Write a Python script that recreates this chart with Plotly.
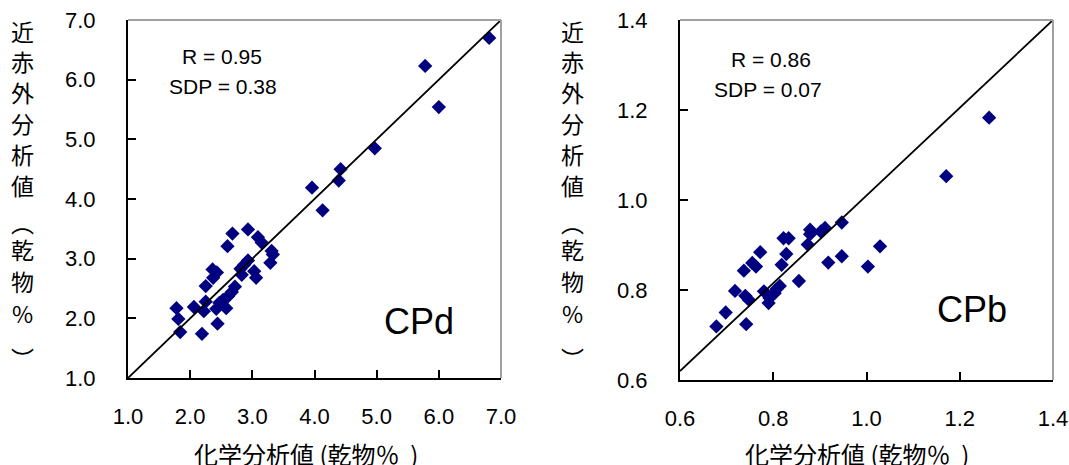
import plotly.graph_objects as go

W, H = 1069, 465

# ---- data: CPd ----
cpd_chem = [6.81, 5.78, 6.00, 4.97, 4.42, 4.39, 3.96, 4.13, 2.93, 2.68, 2.60, 3.09, 3.15,
            3.31, 3.33, 3.29, 2.93, 2.87, 2.81, 2.83, 3.03, 3.06, 2.36, 2.43, 2.37, 2.25,
            2.72, 2.67, 2.61, 2.53, 2.47, 2.25, 2.58, 2.42, 2.22, 2.06, 1.78, 1.81, 1.84,
            2.19, 2.44]
cpd_nir = [6.70, 6.23, 5.54, 4.85, 4.50, 4.31, 4.19, 3.81, 3.49, 3.42, 3.21, 3.36, 3.27,
           3.13, 3.07, 2.93, 2.97, 2.90, 2.83, 2.73, 2.79, 2.68, 2.82, 2.77, 2.68, 2.54,
           2.53, 2.44, 2.37, 2.31, 2.26, 2.28, 2.17, 2.16, 2.12, 2.19, 2.17, 1.99, 1.77,
           1.74, 1.91]
cpd_line_x = [1.0, 7.0]
cpd_line_y = [1.0, 7.0]

# ---- data: CPb ----
cpb_chem = [1.263, 1.171, 1.029, 1.003, 0.947, 0.947, 0.918, 0.911, 0.902, 0.879, 0.879,
            0.874, 0.855, 0.822, 0.833, 0.828, 0.818, 0.772, 0.763, 0.755, 0.737, 0.718,
            0.740, 0.748, 0.698, 0.678, 0.742, 0.780, 0.792, 0.790, 0.803, 0.814, 0.807]
cpb_nir = [1.183, 1.053, 0.897, 0.852, 0.950, 0.875, 0.861, 0.938, 0.930, 0.934, 0.924,
           0.901, 0.820, 0.915, 0.915, 0.880, 0.856, 0.884, 0.852, 0.860, 0.843, 0.798,
           0.787, 0.778, 0.750, 0.719, 0.724, 0.797, 0.782, 0.771, 0.793, 0.809, 0.802]
cpb_line_x = [0.6, 1.4]
cpb_line_y = [0.62, 1.4]

cpd_ticks = [1.0, 2.0, 3.0, 4.0, 5.0, 6.0, 7.0]
cpb_ticks = [0.6, 0.8, 1.0, 1.2, 1.4]

ytitle_chars = ["近", "赤", "外", "分", "析", "値", "︵", "乾", "物", "%", "︶"]
ytitle_ypix = [31, 61, 92, 123, 154, 185, 222, 249, 281, 313, 358]
xtitle = "化学分析値 (乾物％\u00a0\u00a0)"

MARK = "#000080"
CJK = "Noto Sans CJK JP"
LAT = "Liberation Sans, Arial, sans-serif"

def px(x):
    return x / W

def py(y):
    return 1 - y / H

fig = go.Figure()
fig.add_trace(go.Scatter(x=cpd_chem, y=cpd_nir, mode="markers", xaxis="x", yaxis="y",
                         marker=dict(symbol="diamond", size=11, color=MARK, line=dict(width=0))))
fig.add_trace(go.Scatter(x=cpd_line_x, y=cpd_line_y, mode="lines", xaxis="x", yaxis="y",
                         line=dict(color="black", width=1.8)))
fig.add_trace(go.Scatter(x=cpb_chem, y=cpb_nir, mode="markers", xaxis="x2", yaxis="y2",
                         marker=dict(symbol="diamond", size=11, color=MARK, line=dict(width=0))))
fig.add_trace(go.Scatter(x=cpb_line_x, y=cpb_line_y, mode="lines", xaxis="x2", yaxis="y2",
                         line=dict(color="black", width=1.8)))

axis_common = dict(showline=True, linecolor="black", linewidth=2, ticks="inside",
                   ticklen=8, tickwidth=2, tickcolor="black", showgrid=False,
                   zeroline=False, tickfont=dict(family=LAT, size=22, color="black"),
                   fixedrange=True, automargin=False, ticklabeloverflow="allow")

L = (128, 501, 20, 378)
R = (680, 1053, 20, 380)

fig.update_layout(
    width=W, height=H, margin=dict(l=0, r=0, t=0, b=0, autoexpand=False),
    paper_bgcolor="white", plot_bgcolor="white", showlegend=False,
    xaxis=dict(domain=[px(L[0]), px(L[1])], range=[1, 7], tickvals=cpd_ticks,
               ticktext=[f"{v:.1f}" for v in cpd_ticks], anchor="y",
               ticklabelstandoff=18, **axis_common),
    yaxis=dict(domain=[py(L[3]), py(L[2])], range=[1, 7], tickvals=cpd_ticks,
               ticktext=[f"{v:.1f}" for v in cpd_ticks], anchor="x",
               ticklabelstandoff=26, **axis_common),
    xaxis2=dict(domain=[px(R[0]), px(R[1])], range=[0.6, 1.4], tickvals=cpb_ticks,
                ticktext=[f"{v:.1f}" for v in cpb_ticks], anchor="y2",
                ticklabelstandoff=18, **axis_common),
    yaxis2=dict(domain=[py(R[3]), py(R[2])], range=[0.6, 1.4], tickvals=cpb_ticks,
                ticktext=[f"{v:.1f}" for v in cpb_ticks], anchor="x2",
                ticklabelstandoff=26, **axis_common),
)

shapes = []
for xr, yr in (("x", "y"), ("x2", "y2")):
    shapes.append(dict(type="line", xref=f"{xr} domain", yref=f"{yr} domain",
                       x0=0, x1=1, y0=1, y1=1, line=dict(color="#a0a0a0", width=2)))
    shapes.append(dict(type="line", xref=f"{xr} domain", yref=f"{yr} domain",
                       x0=1, x1=1, y0=0, y1=1, line=dict(color="#a0a0a0", width=2)))
fig.update_layout(shapes=shapes)

ann = []
def text(x, y, s, size, family):
    ann.append(dict(x=px(x), y=py(y), xref="paper", yref="paper", text=s,
                    showarrow=False, xanchor="center", yanchor="middle", borderpad=0,
                    font=dict(family=family, size=size, color="black")))

# stats
text(222, 56, "R = 0.95", 21, LAT)
text(223, 86, "SDP = 0.38", 21, LAT)
text(771, 59, "R = 0.86", 21, LAT)
text(768, 89, "SDP = 0.07", 21, LAT)
text(419, 321, "CPd", 36, LAT)
text(972, 309, "CPb", 36, LAT)

# x titles
text(306, 453, xtitle, 24, CJK)
text(857, 453, xtitle, 24, CJK)

# y titles (vertical)
for cx in (22, 572):
    for ch, yy in zip(ytitle_chars, ytitle_ypix):
        text(cx, yy, ch, 23, CJK)

fig.update_layout(annotations=ann)
fig.write_html(
    "out.html",
    config={"displayModeBar": False, "staticPlot": True},
    post_script=("document.body.style.margin='0';"
                 "document.documentElement.style.overflow='hidden';"
                 "document.body.style.overflow='hidden';"),
)
